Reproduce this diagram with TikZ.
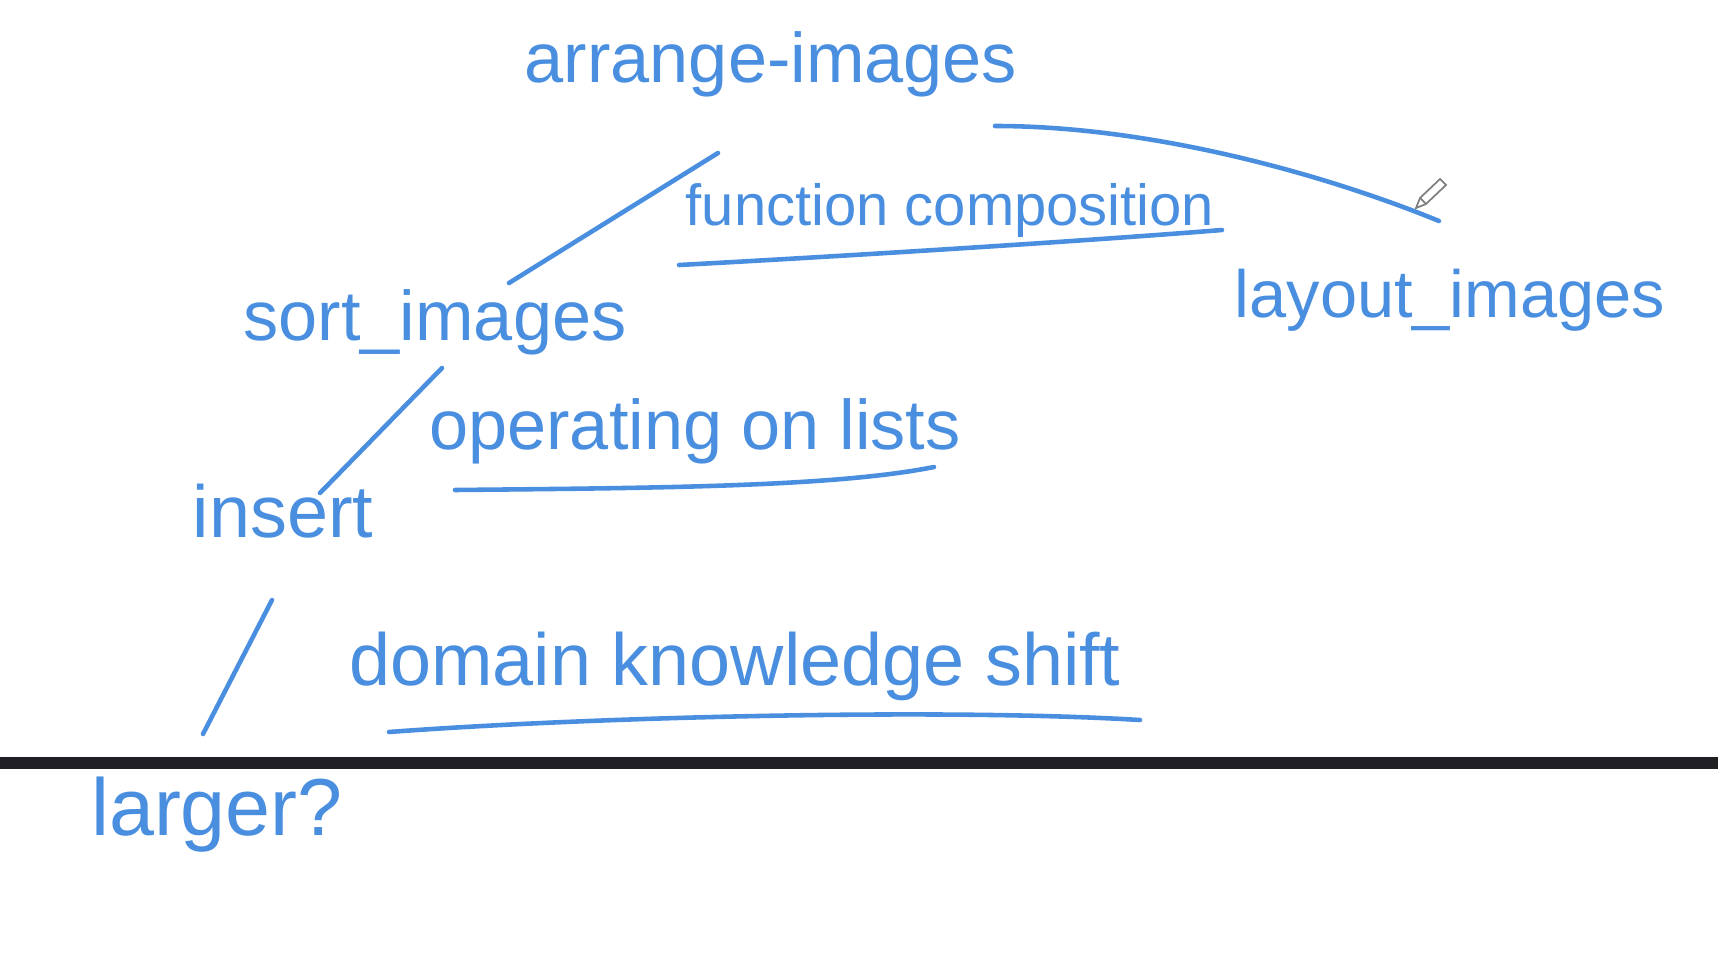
\documentclass[tikz,border=0pt]{standalone}
\usepackage{fontspec}
\setmainfont{Liberation Sans}
\usetikzlibrary{calc}
\definecolor{InkBlue}{HTML}{4A8FDF}
\definecolor{BarBlack}{HTML}{1F1F24}

\begin{document}
\begin{tikzpicture}[x=0.1mm, y=-0.1mm, every node/.style={text=InkBlue, inner sep=0pt, anchor=base}, ink/.style={draw=InkBlue, line width=1.3pt, line cap=round}]
\useasboundingbox (0,0) rectangle (1718,966);
\foreach \name/\label/\x/\y/\size in {arrange/arrange-images/771/82/20,funcomp/function composition/950/226/16.5,sort/sort\_images/435/340/20,layout/layout\_images/1450/317/19,oplists/operating on lists/695/449/20,insert/insert/283/537/21,domain/domain knowledge shift/735/685/21,larger/larger?/217/835/23}{
  \node[font=\fontsize{\size}{\size}\selectfont] (\name) at (\x,\y) {\label};
}
\coordinate (dangle) at (203,734);
% tree branches
\draw[ink] ($(arrange.base)+(-53,71)$) -- ($(sort.base)+(74,-57)$);
\draw[ink] ($(arrange.base)+(224,44)$) .. controls +(160,0) and +(-110,-45) .. ($(layout.base)+(-11,-96)$);
\draw[ink] ($(sort.base)+(7,28)$) -- ($(insert.base)+(37,-44)$);
\draw[ink] ($(insert.base)+(-11,63)$) -- (dangle);
% underlines
\draw[ink] ($(funcomp.base)+(-271,39)$) .. controls +(150,-8) and +(-150,12) .. ($(funcomp.base)+(272,4)$);
\draw[ink] ($(oplists.base)+(-240,41)$) .. controls +(200,-2) and +(-100,20) .. ($(oplists.base)+(239,18)$);
\draw[ink] ($(domain.base)+(-346,47)$) .. controls +(200,-15) and +(-200,-12) .. ($(domain.base)+(405,35)$);
% divider
\fill[BarBlack] (0,757) rectangle (1718,769);
% pencil cursor
\draw[gray, line width=0.5pt, fill=white] (1416,208) -- (1420,198) -- (1440,179) -- (1446,185) -- (1426,204) -- cycle;
\draw[gray, line width=0.5pt] (1420,198) -- (1426,204);
\end{tikzpicture}
\end{document}
